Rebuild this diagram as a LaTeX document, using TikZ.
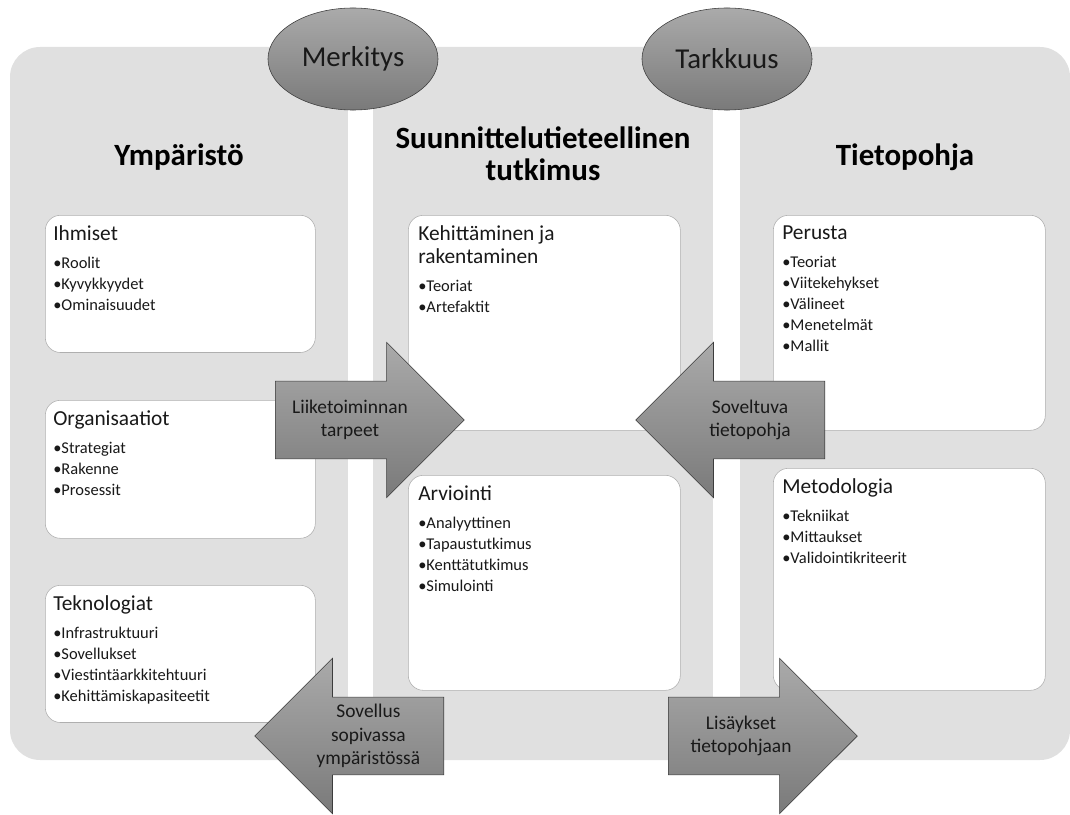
\documentclass[tikz,border=0pt]{standalone}
\usepackage{fontspec}
\setmainfont{Carlito}
\usepackage{tikz}
\usetikzlibrary{positioning,shapes.geometric,shapes.arrows}
\definecolor{panelgray}{RGB}{224,224,224}
\definecolor{cardline}{RGB}{175,175,175}
\definecolor{shadetop}{RGB}{170,170,170}
\definecolor{shadebot}{RGB}{122,122,122}
\definecolor{rimgray}{RGB}{60,60,60}
\definecolor{inkgray}{RGB}{25,25,25}
\newcommand{\cardhead}[1]{{\fontsize{15.2}{18}\selectfont #1}}

\begin{document}
\begin{tikzpicture}[x=0.025cm, y=-0.025cm,
    oval/.style={ellipse, draw=rimgray, top color=shadetop, bottom color=shadebot,
                 minimum width=4.25cm, minimum height=2.55cm, inner sep=0pt,
                 font=\fontsize{20.5}{24}\selectfont, text=inkgray},
    title/.style={align=center, font=\fontsize{22}{22.7}\selectfont\bfseries},
    card/.style={draw=cardline, fill=white, rounded corners=0.38cm,
                 anchor=north west, inner sep=0pt, minimum width=6.8cm},
    cardtext/.style={align=left, inner sep=0pt, text=inkgray,
                     font=\fontsize{11.7}{14.9}\selectfont},
    bigarrow/.style={single arrow, draw=rimgray, top color=shadetop,
                     bottom color=shadebot, inner xsep=0pt, inner ysep=0.9625cm,
                     minimum height=4.725cm, single arrow head extend=0.975cm,
                     single arrow tip angle=90, anchor=tail},
    arrowtext/.style={align=center, inner sep=0pt, text=inkgray,
                      font=\fontsize{13.8}{16.8}\selectfont}
  ]
  \useasboundingbox (0,0) rectangle (1070,814);
  \fill[panelgray, rounded corners=0.75cm] (10,47) rectangle (1070,760);
  \fill[white] (348,100) rectangle (373,760);
  \fill[white] (713,100) rectangle (740,760);

  \node[oval] (merkitys) at (353,59) {Merkitys};
  \node[oval] (tarkkuus) at (727,59) {Tarkkuus};

  \node[title] (env) at (179,157) {Ympäristö};
  \node[title] (dsr) at (543,154) {Suunnittelutieteellinen\\tutkimus};
  \node[title] (kb) at (905,157) {Tietopohja};

  \node[card, minimum width=6.75cm, minimum height=3.43cm] (ihmiset) at (45,215) {};
  \node[card, minimum width=6.75cm, minimum height=3.45cm] (org) at (45,400) {};
  \node[card, minimum width=6.75cm, minimum height=3.43cm] (tekno) at (45,585) {};
  \node[card, minimum height=5.375cm] (kehitys) at (408,215) {};
  \node[card, minimum height=5.375cm] (arviointi) at (408,475) {};
  \node[card, minimum height=5.375cm] (perusta) at (773,215) {};
  \node[card, minimum height=5.55cm] (metodit) at (773,468) {};

  \node[cardtext, below right=0.25cm and 0.2cm of ihmiset.north west] (ihmiset-t)
    {\cardhead{Ihmiset}\\[5.5pt]•Roolit\\•Kyvykkyydet\\•Ominaisuudet};
  \node[cardtext, below right=0.25cm and 0.2cm of org.north west] (org-t)
    {\cardhead{Organisaatiot}\\[5.5pt]•Strategiat\\•Rakenne\\•Prosessit};
  \node[cardtext, below right=0.25cm and 0.2cm of tekno.north west] (tekno-t)
    {\cardhead{Teknologiat}\\[5.5pt]•Infrastruktuuri\\•Sovellukset\\%
     •Viestintäarkkitehtuuri\\•Kehittämiskapasiteetit};
  \node[cardtext, below right=0.25cm and 0.25cm of kehitys.north west] (kehitys-t)
    {\cardhead{Kehittäminen ja}\\[1.4pt]\cardhead{rakentaminen}\\[5.5pt]%
     •Teoriat\\•Artefaktit};
  \node[cardtext, below right=0.25cm and 0.25cm of arviointi.north west] (arviointi-t)
    {\cardhead{Arviointi}\\[5.5pt]•Analyyttinen\\•Tapaustutkimus\\%
     •Kenttätutkimus\\•Simulointi};
  \node[cardtext, below right=0.25cm and 0.225cm of perusta.north west] (perusta-t)
    {\cardhead{Perusta}\\[5.5pt]•Teoriat\\•Viitekehykset\\•Välineet\\%
     •Menetelmät\\•Mallit};
  \node[cardtext, below right=0.25cm and 0.225cm of metodit.north west] (metodit-t)
    {\cardhead{Metodologia}\\[5.5pt]•Tekniikat\\•Mittaukset\\•Validointikriteerit};

  \node[bigarrow] (needs) at (275,420) {};
  \node[bigarrow, shape border rotate=180] (soveltuva) at (825,420) {};
  \node[bigarrow, shape border rotate=180] (sovellus) at (444,736) {};
  \node[bigarrow] (lisays) at (668,736) {};

  \node[arrowtext] (needs-t) at ([xshift=1.875cm]needs.tail)
    {Liiketoiminnan\\tarpeet};
  \node[arrowtext] (soveltuva-t) at ([xshift=-1.875cm]soveltuva.tail)
    {Soveltuva\\tietopohja};
  \node[arrowtext] (sovellus-t) at ([xshift=-1.89cm]sovellus.tail)
    {Sovellus\\sopivassa\\ympäristössä};
  \node[arrowtext] (lisays-t) at ([xshift=1.825cm]lisays.tail)
    {Lisäykset\\tietopohjaan};
\end{tikzpicture}
\end{document}
